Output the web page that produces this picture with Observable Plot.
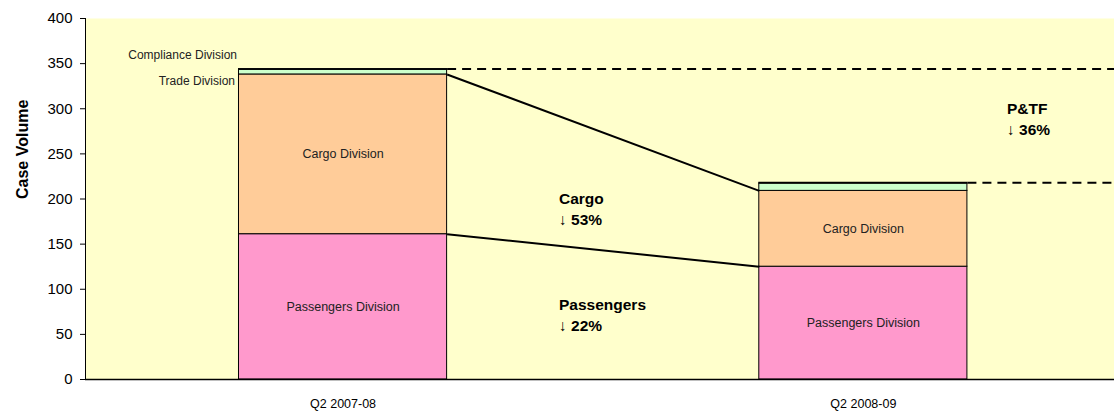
<!DOCTYPE html>
<html>
<head>
<meta charset="utf-8">
<script src="https://cdn.jsdelivr.net/npm/d3@7"></script>
<script src="https://cdn.jsdelivr.net/npm/@observablehq/plot@0.6"></script>
<style>
  html, body { margin: 0; padding: 0; background: #fff; }
</style>
</head>
<body>
<div id="chart"></div>
<script>
const categories = ["Q2 2007-08", "Q2 2008-09"];
const divisions = ["Passengers Division", "Cargo Division", "Trade Division", "Compliance Division"];
const passengers = [161, 125];
const cargo = [177, 84];
const trade = [5, 8];
const compliance = [1, 1];
const divisionColors = ["#FF99CC", "#FFCC99", "#CCFFCC", "#CCFFCC"];
const yTicks = [0, 50, 100, 150, 200, 250, 300, 350, 400];

const annotations = [
  {text: "Cargo\n↓ 53%", x: 0.415, y: 190},
  {text: "Passengers\n↓ 22%", x: 0.415, y: 73},
  {text: "P&TF\n↓ 36%", x: 1.276, y: 290}
];

const xDomain = [-0.495, 1.5];
const halfBar = 0.2;

// build stacked segments
const series = [passengers, cargo, trade, compliance];
const segments = [];
categories.forEach((c, i) => {
  let base = 0;
  series.forEach((s, d) => {
    segments.push({i, division: divisions[d], d, y1: base, y2: base + s[i]});
    base += s[i];
  });
});
const totals = categories.map((c, i) => series.reduce((a, s) => a + s[i], 0));
const cargoTop = categories.map((c, i) => passengers[i] + cargo[i]);

const inside = segments.filter(s => s.d < 2);
const tradeLabel = segments.filter(s => s.i === 0 && s.d === 2);
const complianceLabel = segments.filter(s => s.i === 0 && s.d === 3);

const font = "'Liberation Sans', Arial, Helvetica, sans-serif";

const chart = Plot.plot({
  width: 1114,
  height: 412,
  marginLeft: 85,
  marginRight: 0,
  marginTop: 18,
  marginBottom: 33,
  style: {fontFamily: font, background: "white", color: "black", overflow: "hidden"},
  x: {domain: xDomain, range: [85, 1123]},
  y: {domain: [0, 400]},
  marks: [
    Plot.frame({fill: "#FFFFCC", stroke: "none"}),
    Plot.rect(segments, {
      x1: d => d.i - halfBar, x2: d => d.i + halfBar,
      y1: "y1", y2: "y2",
      fill: d => divisionColors[d.d],
      stroke: "black", strokeWidth: 1
    }),
    Plot.text(inside, {
      x: "i", y: d => (d.y1 + d.y2) / 2, text: "division",
      fontSize: 12.5, fill: "#222"
    }),
    Plot.text(tradeLabel, {
      x: d => d.i - halfBar, y: d => (d.y1 + d.y2) / 2, text: "division",
      textAnchor: "end", dx: -4, dy: 9,
      fontSize: 12, fill: "#222"
    }),
    Plot.text(complianceLabel, {
      x: d => d.i - halfBar, y: d => (d.y1 + d.y2) / 2, text: "division",
      textAnchor: "end", dx: -2, dy: -14,
      fontSize: 12, fill: "#222"
    }),
    // connector lines
    Plot.link([0], {
      x1: () => 0 + halfBar, x2: () => 1 - halfBar,
      y1: () => cargoTop[0], y2: () => cargoTop[1],
      stroke: "black", strokeWidth: 2
    }),
    Plot.link([0], {
      x1: () => 0 + halfBar, x2: () => 1 - halfBar,
      y1: () => passengers[0], y2: () => passengers[1],
      stroke: "black", strokeWidth: 2
    }),
    // dashed total lines
    Plot.link([0, 1], {
      x1: i => i + halfBar, x2: () => xDomain[1],
      y1: i => totals[i], y2: i => totals[i],
      stroke: "black", strokeWidth: 2, strokeDasharray: "9,6"
    }),
    Plot.text(annotations, {
      x: "x", y: "y", text: "text",
      textAnchor: "start", lineAnchor: "middle", lineHeight: 1.35,
      fontSize: 15.5, fontWeight: "bold", fill: "black"
    }),
    Plot.ruleX([xDomain[0]], {stroke: "black", strokeWidth: 1}),
    Plot.ruleY([0], {stroke: "black", strokeWidth: 1.5}),
    Plot.axisY({ticks: yTicks, tickSize: 5, tickPadding: 8, fontSize: 15, label: null, stroke: "black"}),
    Plot.axisX({ticks: [0, 1], tickFormat: i => categories[i], tickSize: 0, tickPadding: 20, fontSize: 12.5, label: null}),
    Plot.text(["Case Volume"], {
      frameAnchor: "left", dx: -63, rotate: -90,
      fontSize: 16, fontWeight: "bold", fill: "black"
    })
  ]
});

document.getElementById("chart").appendChild(chart);
</script>
</body>
</html>
